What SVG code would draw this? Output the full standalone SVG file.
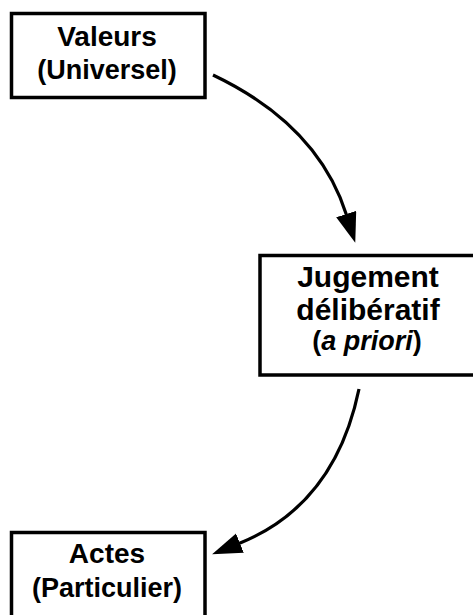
<svg xmlns="http://www.w3.org/2000/svg" width="473" height="615" viewBox="0 0 473 615">
  <style>
    .box { fill: #ffffff; stroke: #000000; stroke-width: 3.5; }
    .t { font-family: "Liberation Sans", Arial, sans-serif; font-size: 28px; font-weight: bold; fill: #000000; text-anchor: middle; }
    .big { font-size: 30px; }
    .small { font-size: 27px; }
    .link { fill: none; stroke: #000000; stroke-width: 3.2; }
  </style>
  <defs>
    <marker id="arrow" markerUnits="userSpaceOnUse" markerWidth="32" markerHeight="22" refX="1" refY="10.5" orient="auto">
      <path d="M0,0 L30,10.5 L0,21 z" fill="#000000"/>
    </marker>
  </defs>

  <g id="valeurs">
    <rect class="box" x="11.5" y="13.5" width="193.5" height="84"/>
    <text class="t" x="107" y="46">Valeurs</text>
    <text class="t small" x="107" y="79">(Universel)</text>
  </g>

  <g id="jugement">
    <rect class="box" x="260" y="255.5" width="220" height="119.5"/>
    <text class="t big" x="368" y="287">Jugement</text>
    <text class="t big" x="368" y="320">délibératif</text>
    <text class="t small" x="367" y="350">(<tspan font-style="italic">a priori</tspan>)</text>
  </g>

  <g id="actes">
    <rect class="box" x="11.5" y="532.5" width="193.5" height="100"/>
    <text class="t" x="107" y="563">Actes</text>
    <text class="t small" x="107" y="597">(Particulier)</text>
  </g>

  <g id="connectors">
    <path class="link" d="M213,75 Q318,125 346.5,215" marker-end="url(#arrow)"/>
    <path class="link" d="M359,389 Q335,505 239,543.5" marker-end="url(#arrow)"/>
  </g>
</svg>
